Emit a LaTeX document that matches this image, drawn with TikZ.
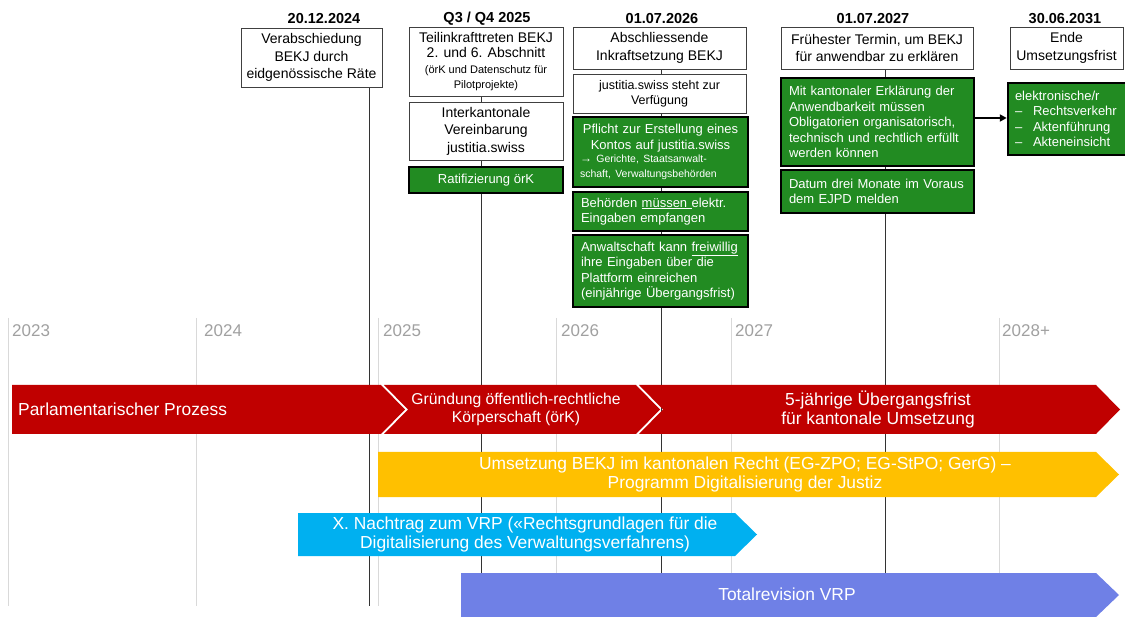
\documentclass[tikz,border=0pt]{standalone}
\usepackage{fontspec}
\setmainfont{Liberation Sans}
\usetikzlibrary{arrows.meta}
\definecolor{grn}{RGB}{34,139,34}
\definecolor{barred}{RGB}{192,0,0}
\definecolor{baryel}{RGB}{255,192,0}
\definecolor{barblue}{RGB}{0,176,240}
\definecolor{barpurp}{RGB}{111,128,230}
\definecolor{gridc}{RGB}{217,217,217}
\definecolor{yeartxt}{RGB}{160,160,160}
\pgfdeclarelayer{bg}
\pgfsetlayers{bg,main}
\tikzset{
  wbox/.style={draw=black!75, line width=0.8pt, fill=white, inner sep=0pt, align=center, font=\fontsize{14}{17.5}\selectfont},
  gbox/.style={draw=black, line width=2.5pt, fill=grn, text=white, inner sep=0pt, font=\fontsize{13}{15.5}\selectfont},
  datelbl/.style={font=\bfseries\fontsize{14.5}{16}\selectfont},
  yearlbl/.style={text=yeartxt, anchor=west, inner sep=0pt, font=\fontsize{17}{19}\selectfont},
  bartxt/.style={text=white, align=center, inner sep=0pt, font=\fontsize{17.4}{19.5}\selectfont},
  gridln/.style={draw=gridc, line width=0.8pt},
  conn/.style={draw=black!80, line width=0.9pt},
}
\begin{document}
\begin{tikzpicture}[x=1pt,y=-1pt]
\path[use as bounding box] (0,0) rectangle (1125,617);
\clip (0,0) rectangle (1125,617);

% dates
\node[datelbl] (d1) at (324,19) {20.12.2024};
\node[datelbl] (d2) at (487,19) {Q3 / Q4 2025};
\node[datelbl] (d3) at (662,19) {01.07.2026};
\node[datelbl] (d4) at (873,19) {01.07.2027};
\node[datelbl] (d5) at (1065,19) {30.06.2031};

% column 1
\node[wbox, minimum width=141pt, minimum height=59pt] (b1) at (311.5,57.5)
  {Verabschiedung\\BEKJ durch\\eidgenössische Räte};

% column 2
\node[wbox, minimum width=154pt, minimum height=69pt, font=\fontsize{14}{15.5}\selectfont] (b2) at (486,61.5)
  {Teilinkrafttreten BEKJ\\2. und 6. Abschnitt\\\fontsize{11}{13}\selectfont(örK und Datenschutz für\\\fontsize{11}{13}\selectfont Pilotprojekte)};
\node[wbox, minimum width=154pt, minimum height=58pt] (b3) at (486,131)
  {Interkantonale\\Vereinbarung\\justitia.swiss};
\node[gbox, minimum width=154pt, minimum height=26pt] (b4) at (486,180)
  {Ratifizierung örK};

% column 3
\node[wbox, minimum width=173pt, minimum height=42pt] (b5) at (659.5,48)
  {Abschliessende\\Inkraftsetzung BEKJ};
\node[wbox, minimum width=173pt, minimum height=39pt, font=\fontsize{12.5}{15}\selectfont] (b6) at (659.5,93.5)
  {justitia.swiss steht zur\\Verfügung};
\node[gbox, minimum width=175pt, minimum height=70pt, text width=161pt, align=left] (b7) at (660.5,152)
  {\makebox[161pt][c]{Pflicht zur Erstellung eines}\\
   \makebox[161pt][c]{Kontos auf justitia.swiss}\\
   \fontsize{10.5}{13}\selectfont{\fontsize{12}{13}\selectfont →} Gerichte, Staatsanwalt-\\
   \fontsize{10.5}{12.5}\selectfont schaft, Verwaltungsbehörden};
\node[gbox, minimum width=175pt, minimum height=39pt, text width=159pt, align=left] (b8) at (660.5,211.5)
  {Behörden \underline{müssen\ }elektr.\\Eingaben empfangen};
\node[gbox, minimum width=175pt, minimum height=72pt, text width=159pt, align=left] (b9) at (660.5,271)
  {Anwaltschaft kann \underline{freiwillig}\\ihre Eingaben über die\\Plattform einreichen\\(einjährige Übergangsfrist)};

% column 4
\node[wbox, minimum width=192pt, minimum height=42pt] (b10) at (877,48)
  {Frühester Termin, um BEKJ\\für anwendbar zu erklären};
\node[gbox, minimum width=193pt, minimum height=88pt, text width=177pt, align=left] (b11) at (877.5,122)
  {Mit kantonaler Erklärung der\\Anwendbarkeit müssen\\Obligatorien organisatorisch,\\technisch und rechtlich erfüllt\\werden können};
\node[gbox, minimum width=193pt, minimum height=43pt, text width=177pt, align=left] (b12) at (877.5,191.5)
  {Datum drei Monate im Voraus\\dem EJPD melden};

% column 5
\node[wbox, minimum width=113pt, minimum height=42pt] (b13) at (1066.5,48)
  {Ende\\Umsetzungsfrist};
\node[gbox, minimum width=122pt, minimum height=72pt, text width=108pt, align=left] (b14) at (1069,119)
  {elektronische/r\\
   \makebox[18pt][l]{–}Rechtsverkehr\\
   \makebox[18pt][l]{–}Aktenführung\\
   \makebox[18pt][l]{–}Akteneinsicht};

\draw[line width=2pt, -{Triangle[length=7pt,width=7pt]}] (b11.east |- 0,118) -- (b14.west |- 0,118);

% end points of the date lines
\coordinate (e1) at (369,606);
\coordinate (e2) at (481,606);
\coordinate (e3) at (661,606);
\coordinate (e4) at (885,606);

\begin{pgfonlayer}{bg}
  \foreach \gx in {8,196,378,556,731,999} {
    \draw[gridln] (\gx,318) -- (\gx,606);
  }
  \draw[conn] (b1.south -| e1) -- (e1);
  \draw[conn] (b2.south -| e2) -- (e2);
  \draw[conn] (b5.south -| e3) -- (e3);
  \draw[conn] (b10.south -| e4) -- (e4);
\end{pgfonlayer}

% years
\node[yearlbl] (y23) at (12,331) {2023};
\node[yearlbl] (y24) at (204,331) {2024};
\node[yearlbl] (y25) at (383,331) {2025};
\node[yearlbl] (y26) at (561,331) {2026};
\node[yearlbl] (y27) at (735,331) {2027};
\node[yearlbl] (y28) at (1002,331) {2028+};

% red chevron bar
\fill[barred] (12,385) -- (381,385) -- (405,409.5) -- (381,434) -- (12,434) -- cycle;
\fill[barred] (384,385) -- (636,385) -- (660,409.5) -- (636,434) -- (384,434) -- (408,409.5) -- cycle;
\fill[barred] (639,385) -- (1096,385) -- (1120,409.5) -- (1096,434) -- (639,434) -- (663,409.5) -- cycle;
\node[bartxt, anchor=west] (t1) at (18,409.5) {Parlamentarischer Prozess};
\node[bartxt, font=\fontsize{15.7}{18.5}\selectfont] (t2) at (516,409.5) {Gründung öffentlich-rechtliche\\Körperschaft (örK)};
\node[bartxt] (t3) at (878,409.5) {5-jährige Übergangsfrist\\für kantonale Umsetzung};

% yellow bar
\fill[baryel] (378,452) -- (1096,452) -- (1119,474.5) -- (1096,497) -- (378,497) -- cycle;
\node[bartxt] (t4) at (745,474.5) {Umsetzung BEKJ im kantonalen Recht (EG-ZPO; EG-StPO; GerG) –\\Programm Digitalisierung der Justiz};

% blue bar
\fill[barblue] (298,513) -- (735,513) -- (757,534.5) -- (735,556) -- (298,556) -- cycle;
\node[bartxt] (t5) at (525,534.5) {X. Nachtrag zum VRP («Rechtsgrundlagen für die\\Digitalisierung des Verwaltungsverfahrens)};

% purple bar
\fill[barpurp] (461,573) -- (1096,573) -- (1119,595) -- (1096,617) -- (461,617) -- cycle;
\node[bartxt] (t6) at (787,594) {Totalrevision VRP};
\end{tikzpicture}
\end{document}
